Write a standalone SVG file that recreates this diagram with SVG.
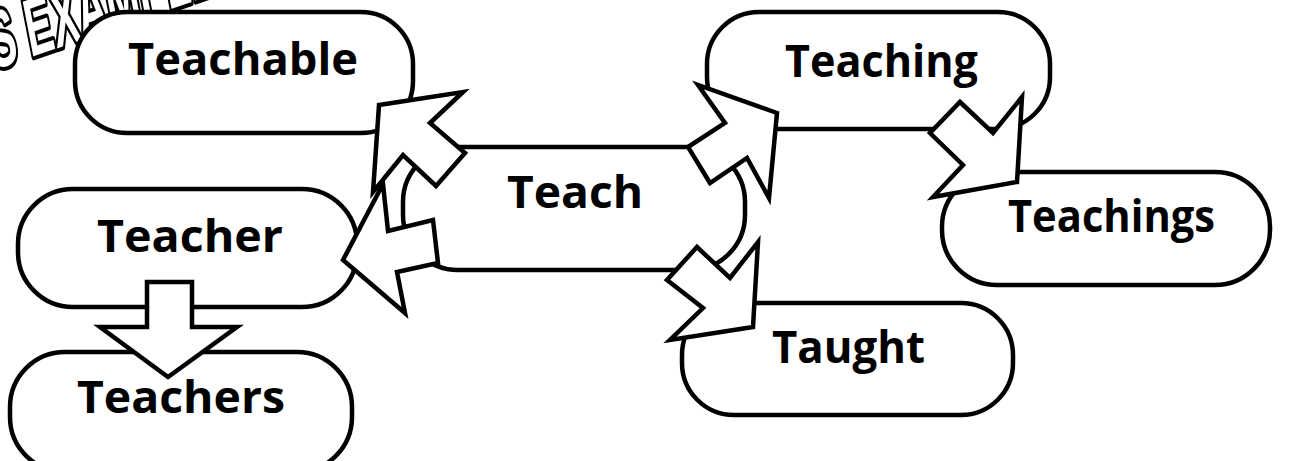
<svg xmlns="http://www.w3.org/2000/svg" width="1301" height="461" viewBox="0 0 1301 461">
<style>
.box{fill:#fff;stroke:#000;stroke-width:4.5}
.lbl{font-family:"Open Sans","Noto Sans","DejaVu Sans",sans-serif;font-weight:700;font-size:44px;fill:#000}
.arr{fill:#fff;stroke:#000;stroke-width:4.5;stroke-linejoin:miter}
.deco{font-family:"Liberation Sans","DejaVu Sans",sans-serif;font-weight:700;font-size:80px;fill:#fff;stroke:#000;stroke-width:8;stroke-linejoin:round;paint-order:stroke fill}
</style>
<rect width="1301" height="461" fill="#fff"/>
<text class="deco" transform="translate(-6,70) rotate(-19) skewX(-8)" x="0" y="0" textLength="265" lengthAdjust="spacingAndGlyphs">S EXAMPLES</text>
<g id="node-teachable">
<rect class="box" x="75" y="12" width="338" height="121" rx="52" ry="52"/>
<text class="lbl" x="128" y="75" textLength="230" lengthAdjust="spacingAndGlyphs">Teachable</text>
</g>
<g id="node-teach">
<rect class="box" x="403" y="147" width="342" height="123" rx="55" ry="55"/>
<text class="lbl" x="507" y="208" textLength="136" lengthAdjust="spacingAndGlyphs">Teach</text>
</g>
<g id="node-teaching">
<rect class="box" x="707" y="12" width="343" height="117" rx="52" ry="52"/>
<text class="lbl" x="785" y="77" textLength="193" lengthAdjust="spacingAndGlyphs">Teaching</text>
</g>
<g id="node-teachings">
<rect class="box" x="942" y="172" width="328" height="113" rx="55" ry="55"/>
<text class="lbl" x="1008" y="232" textLength="207" lengthAdjust="spacingAndGlyphs">Teachings</text>
</g>
<g id="node-taught">
<rect class="box" x="682" y="303" width="331" height="112" rx="52" ry="52"/>
<text class="lbl" x="772" y="363" textLength="153" lengthAdjust="spacingAndGlyphs">Taught</text>
</g>
<g id="node-teacher">
<rect class="box" x="18" y="189" width="339" height="118" rx="55" ry="55"/>
<text class="lbl" x="97" y="252" textLength="186" lengthAdjust="spacingAndGlyphs">Teacher</text>
</g>
<g id="node-teachers">
<rect class="box" x="10" y="352" width="342" height="120" rx="55" ry="55"/>
<text class="lbl" x="77" y="413" textLength="208" lengthAdjust="spacingAndGlyphs">Teachers</text>
</g>
<g id="connectors">
<polygon class="arr" points="147,282 192,282 192,327 237,327 168,377 100,327 147,327"/>
<polygon class="arr" points="343,260 383,184 388,231 433,220 438,263 397,272 405,313"/>
<polygon class="arr" points="379,105 463,92 430,123 465,153 436,186 403,155 373,192"/>
<polygon class="arr" points="777,113 698,85 725,123 688,147 710,183 747,158 769,198"/>
<polygon class="arr" points="753,327 758,242 730,278 697,247 667,280 703,308 670,340"/>
<polygon class="arr" points="1017,182 1022,97 993,133 960,102 930,133 963,165 933,197"/>
</g>
</svg>
